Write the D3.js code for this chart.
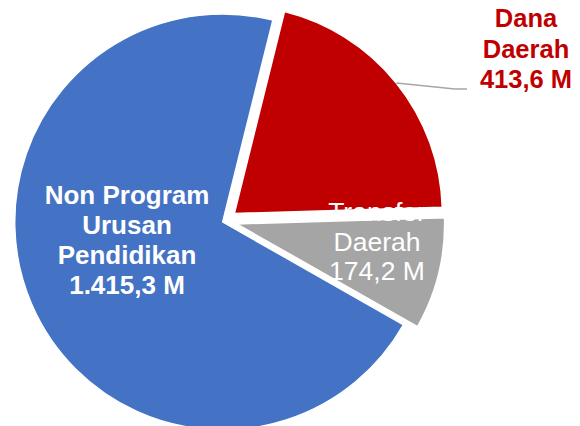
<!DOCTYPE html>
<html>
<head>
<meta charset="utf-8">
<script src="https://cdn.jsdelivr.net/npm/d3@7"></script>
<style>
  body { margin: 0; background: #fff; }
  text { font-family: "Liberation Sans", Arial, sans-serif; }
</style>
</head>
<body>
<svg id="pie"></svg>
<script>
// data
var categories = ["Non Program Urusan Pendidikan", "Dana Daerah", "Transfer Daerah"];
var values = [1415.3, 413.6, 174.2];
var labelLines = [
  ["Non Program", "Urusan", "Pendidikan", "1.415,3 M"],
  ["Dana", "Daerah", "413,6 M"],
  ["Transfer", "Daerah", "174,2 M"]
];

// styles / layout
var colors = ["#4472C4", "#C00000", "#A5A5A5"];
var labelColors = ["#ffffff", "#C00000", "#ffffff"];
var labelWeights = ["bold", "bold", "normal"];
var labelSizes = [26, 25.5, 26.5];
var explode = [2.5, 12, 12];
var labelPos = [[127, 204], [526, 27], [377, 221]];
var lineGap = [30, 30.5, 29.5];

var width = 580, height = 426;
var cx = 225, cy = 221, radius = 208;

var svg = d3.select("#pie")
  .attr("width", width)
  .attr("height", height);

var pie = d3.pie()
  .sort(null)
  .startAngle(119.6 * Math.PI / 180)
  .endAngle(119.6 * Math.PI / 180 + 2 * Math.PI);

var arcs = pie(values);
var arc = d3.arc().innerRadius(0).outerRadius(radius);

function offset(d, i) {
  var a = (d.startAngle + d.endAngle) / 2;
  return [explode[i] * Math.sin(a), -explode[i] * Math.cos(a)];
}

var g = svg.append("g").attr("transform", "translate(" + cx + "," + cy + ")");

g.selectAll(".slice")
  .data(arcs)
  .enter().append("path")
  .attr("class", "slice")
  .attr("d", arc)
  .attr("transform", function(d, i) { var o = offset(d, i); return "translate(" + o[0] + "," + o[1] + ")"; })
  .attr("fill", function(d, i) { return colors[i]; })
  .attr("stroke", "#fff")
  .attr("stroke-width", 1.5);

// leader line for Dana Daerah
var red = arcs[1];
var ro = offset(red, 1);
var mid = (red.startAngle + red.endAngle) / 2;
var sx = cx + ro[0] + radius * Math.sin(mid);
var sy = cy + ro[1] - radius * Math.cos(mid);
var ly = 89, lx = 467;
svg.append("path")
  .attr("d", d3.line()([[sx, sy], [lx - 12, ly], [lx, ly]]))
  .attr("fill", "none")
  .attr("stroke", "#A6A6A6")
  .attr("stroke-width", 1.5);

// labels
labelLines.forEach(function(lines, i) {
  var t = svg.append("text")
    .attr("text-anchor", "middle")
    .attr("fill", labelColors[i])
    .style("font-size", labelSizes[i] + "px")
    .style("font-weight", labelWeights[i]);
  lines.forEach(function(s, k) {
    t.append("tspan")
      .attr("x", labelPos[i][0])
      .attr("y", labelPos[i][1] + k * lineGap[i])
      .text(s);
  });
});
</script>
</body>
</html>
